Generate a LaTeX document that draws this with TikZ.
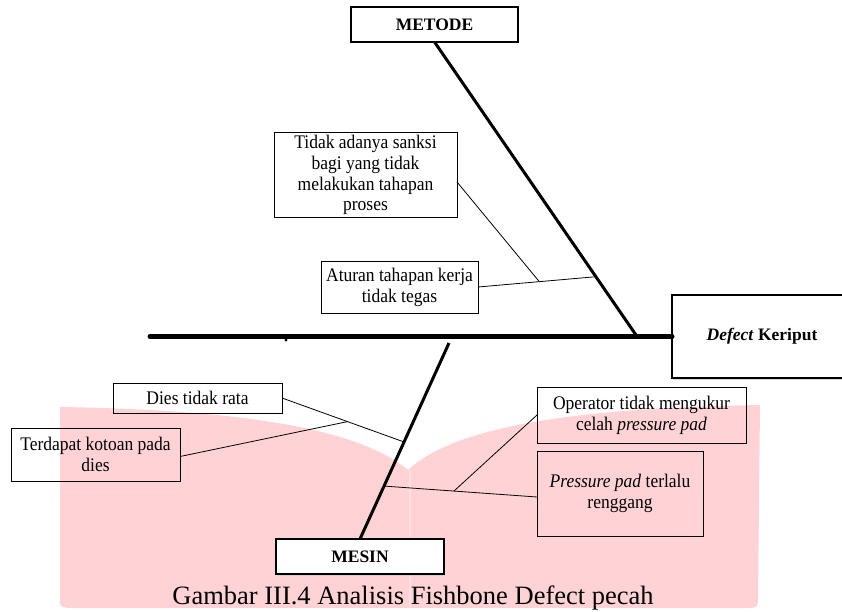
\documentclass[tikz,border=0pt]{standalone}
\usepackage{fontspec}
\setmainfont{Liberation Serif}
\usetikzlibrary{calc,shadows}

\definecolor{wmpink}{RGB}{255,211,214}
\definecolor{spinepink}{RGB}{255,224,226}

\begin{document}
\begin{tikzpicture}[x=1pt,y=-1pt,
  lbl/.style={draw=black, line width=0.9pt, align=center, inner sep=2pt, outer sep=0pt,
              yscale=1.1, transform shape,
              font=\fontsize{17.5}{19}\selectfont},
  head/.style={draw=black, line width=1.2pt, fill=white, align=center, inner sep=2pt, outer sep=0pt,
               font=\fontsize{17.5}{21}\selectfont\bfseries,
               drop shadow={shadow xshift=1.3pt, shadow yshift=-1.5pt, fill=gray!40, opacity=0.8}},
  spine/.style={line width=5pt, line cap=round},
  bone/.style={line width=3pt},
  twig/.style={line width=0.8pt},
]
\useasboundingbox (0,0) rectangle (842,612);
\begin{scope}
\clip (0,0) rectangle (842,612);

% open-book watermark behind the diagram
\fill[wmpink] (60,407) .. controls (250,410) and (360,430) .. (408,470)
   .. controls (450,430) and (560,408) .. (760,405)
   -- (758,598) .. controls (758,607) .. (749,608) -- (69,608)
   .. controls (60,607) .. (60,598) -- cycle;
\draw[spinepink, line width=1.5pt] (410,470) -- (410,608);

% head and category boxes
\node[head, minimum width=167pt, minimum height=35pt] (metode) at (434.5,24.5) {METODE};
\node[head, minimum width=168pt, minimum height=35pt] (mesin) at (360,556.5) {MESIN};
\node[head, minimum width=180pt, minimum height=83pt] (defect) at (762,336.5) {\textit{Defect} Keriput};

% cause boxes (heights given before the 1.1 vertical stretch)
\node[lbl, minimum width=183pt, minimum height=76.4pt] (tidak) at (365.5,175)
  {Tidak adanya sanksi\\bagi yang tidak\\melakukan tahapan\\proses};
\node[lbl, minimum width=157pt, minimum height=47.3pt] (aturan) at (399.5,287)
  {Aturan tahapan kerja\\tidak tegas};
\node[lbl, minimum width=169pt, minimum height=27.3pt] (dies) at (197.5,398)
  {Dies tidak rata};
\node[lbl, minimum width=169pt, minimum height=48.2pt] (kotoran) at (95.5,454.5)
  {Terdapat kotoan pada\\dies};
\node[lbl, minimum width=209pt, minimum height=50.9pt] (operator) at (641.5,415)
  {Operator tidak mengukur\\celah \textit{pressure pad}};
\node[lbl, minimum width=166pt, minimum height=77.3pt] (pressure) at (620,493.5)
  {\textit{Pressure pad} terlalu\\renggang};

% backbone
\coordinate (spineL) at (150,336.5);
\draw[spine] (spineL) -- (defect.west);
\fill (286,340) circle (1.7);

% category bones
\coordinate (mBase) at (637,336.5);
\draw[bone] (metode.south) -- (mBase);
\coordinate (sTop) at (449,343);
\draw[bone] (sTop) -- (mesin.north);

% METODE causes
\coordinate (aHit) at ($(metode.south)!0.797!(mBase)$);
\draw[twig] (aturan.east) -- (aHit);
\coordinate (aJoin) at ($(aturan.east)!0.52!(aHit)$);
\coordinate (tEnd) at ([yshift=-7pt]tidak.east);
\draw[twig] (tEnd) -- (aJoin);

% MESIN causes
\coordinate (dHit) at ($(sTop)!0.505!(mesin.north)$);
\draw[twig] (dies.east) -- (dHit);
\coordinate (dJoin) at ($(dies.east)!0.537!(dHit)$);
\coordinate (kEnd) at ([yshift=-2pt]kotoran.east);
\draw[twig] (kEnd) -- (dJoin);
\coordinate (pHit) at ($(sTop)!0.73!(mesin.north)$);
\coordinate (pEnd) at ([yshift=-3.5pt]pressure.west);
\draw[twig] (pHit) -- (pEnd);
\coordinate (pJoin) at ($(pHit)!0.457!(pEnd)$);
\draw[twig] (pJoin) -- (operator.west);

% caption
\node[font=\fontsize{26.5}{30}\selectfont, anchor=base, inner sep=0pt] (caption) at (413,604)
  {Gambar III.4 Analisis Fishbone Defect pecah};
\end{scope}
\end{tikzpicture}
\end{document}
